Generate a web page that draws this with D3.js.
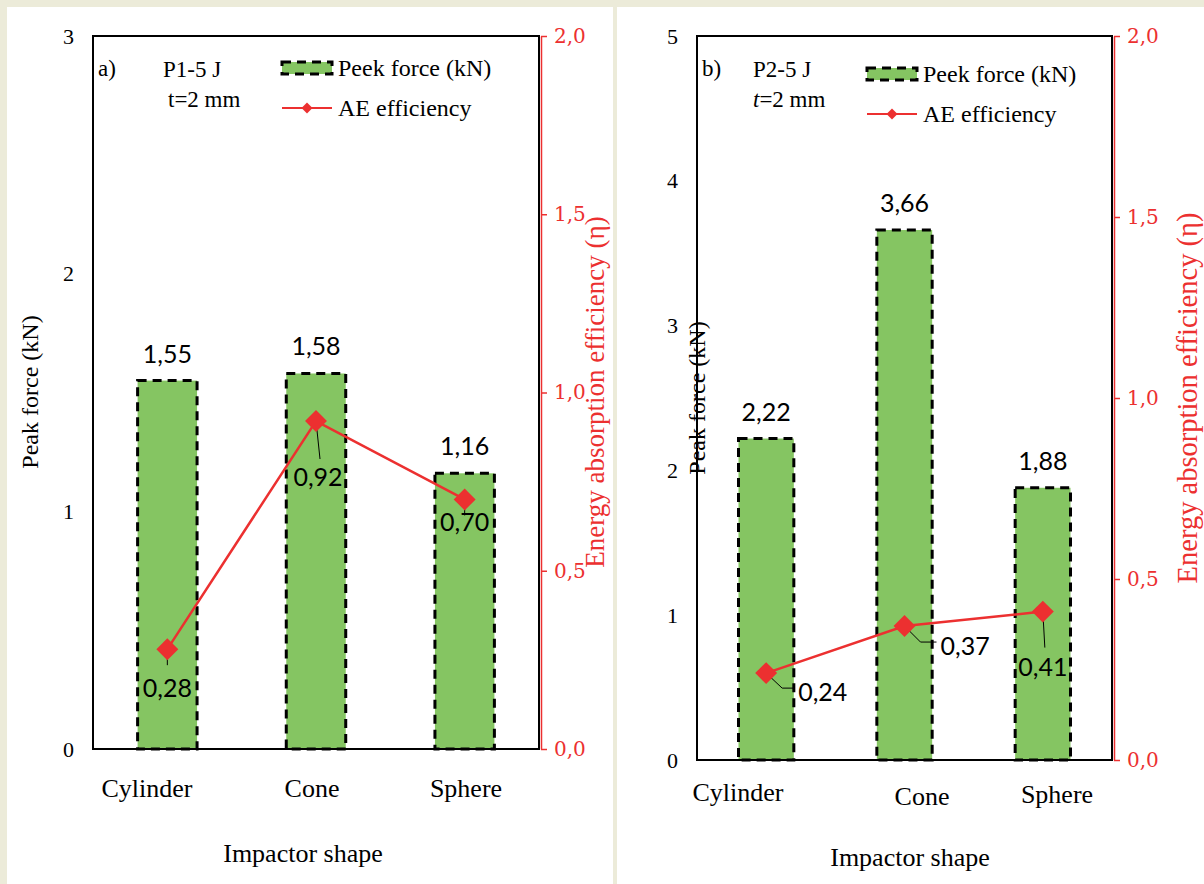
<!DOCTYPE html>
<html>
<head>
<meta charset="utf-8">
<script src="https://cdn.jsdelivr.net/npm/d3@7/dist/d3.min.js"></script>
<style>
  body { margin: 0; background: #ecebd9; }
  svg { display: block; }
</style>
</head>
<body>
<svg id="chart" width="1204" height="884"></svg>
<script>
// data
const categories = ['Cylinder', 'Cone', 'Sphere'];
const peakForceA = [1.55, 1.58, 1.16];
const efficiencyA = [0.28, 0.92, 0.70];
const peakForceB = [2.22, 3.66, 1.88];
const efficiencyB = [0.24, 0.37, 0.41];
const forceTicksA = [0, 1, 2, 3];
const forceTicksB = [0, 1, 2, 3, 4, 5];
const effTicks = [0, 0.5, 1.0, 1.5, 2.0];

const serif = '"Liberation Serif", "Times New Roman", serif';
const wideSerif = '"DejaVu Serif", serif';
const sans = 'Lato, "Open Sans", sans-serif';
const green = '#85c562';
const red = '#ec3030';

const comma = d3.formatLocale({decimal: ',', thousands: '.', grouping: [3], currency: ['', '']});
const fmt1 = comma.format('.1f');
const fmt2 = comma.format('.2f');

const svg = d3.select('#chart');

// white panels on the beige page
svg.append('rect').attr('x', 7).attr('y', 7).attr('width', 606).attr('height', 877).attr('fill', '#fff');
svg.append('rect').attr('x', 617).attr('y', 7).attr('width', 587).attr('height', 877).attr('fill', '#fff');

function drawPanel(cfg) {
  const g = svg.append('g');
  const {left, right, top, bottom} = cfg.box;

  const x = d3.scaleBand().domain(categories).range([left, right]).paddingInner(0.6).paddingOuter(0.3);
  const y = d3.scaleLinear().domain([0, d3.max(cfg.forceTicks)]).range([bottom, top]);
  const y2 = d3.scaleLinear().domain([0, 2]).range([bottom, top]);

  // bars
  g.append('g').selectAll('rect')
    .data(cfg.peak)
    .join('rect')
    .attr('x', (d, i) => x(categories[i]))
    .attr('width', x.bandwidth())
    .attr('y', d => y(d))
    .attr('height', d => bottom - y(d))
    .attr('fill', green)
    .attr('stroke', '#000')
    .attr('stroke-width', 3)
    .attr('stroke-dasharray', '9,6');

  // plot frame
  g.append('rect')
    .attr('x', left).attr('y', top)
    .attr('width', right - left).attr('height', bottom - top)
    .attr('fill', 'none').attr('stroke', '#000').attr('stroke-width', 2);

  // left axis
  const yAxis = g.append('g')
    .attr('transform', `translate(${left},0)`)
    .call(d3.axisLeft(y).tickValues(cfg.forceTicks).tickSize(0).tickPadding(19).tickFormat(d3.format('d')));
  yAxis.select('.domain').remove();
  yAxis.selectAll('text').attr('font-family', serif).attr('font-size', 22).attr('fill', '#000');

  // right axis
  const y2Axis = g.append('g')
    .attr('transform', `translate(${right + 2},0)`)
    .call(d3.axisRight(y2).tickValues(effTicks).tickSize(6).tickSizeOuter(0).tickPadding(7).tickFormat(fmt1));
  y2Axis.select('.domain').attr('stroke', red).attr('stroke-width', 1.5);
  y2Axis.selectAll('line').attr('stroke', red).attr('stroke-width', 1.5);
  y2Axis.selectAll('text').attr('font-family', wideSerif).attr('font-size', 20).attr('fill', red);

  // category labels
  categories.forEach((c, i) => {
    g.append('text')
      .attr('x', cfg.catX[i])
      .attr('y', bottom + cfg.catDy[i])
      .attr('text-anchor', 'middle')
      .attr('font-family', serif).attr('font-size', 26)
      .text(c);
  });

  g.append('text')
    .attr('x', cfg.xTitleX).attr('y', bottom + cfg.xTitleDy)
    .attr('text-anchor', 'middle')
    .attr('font-family', serif).attr('font-size', 26)
    .text('Impactor shape');

  g.append('text')
    .attr('transform', `translate(${cfg.yTitleX},${cfg.yTitleY}) rotate(-90)`)
    .attr('text-anchor', 'middle')
    .attr('font-family', serif).attr('font-size', 24)
    .text('Peak force (kN)');

  g.append('text')
    .attr('transform', `translate(${cfg.y2TitleX},${cfg.y2TitleY}) rotate(-90)`)
    .attr('text-anchor', 'middle')
    .attr('font-family', serif).attr('font-size', cfg.y2TitleSize)
    .attr('fill', red)
    .text('Energy absorption efficiency (η)');

  // bar value labels
  g.append('g').selectAll('text')
    .data(cfg.peak)
    .join('text')
    .attr('x', (d, i) => x(categories[i]) + x.bandwidth() / 2)
    .attr('y', d => y(d) - 18)
    .attr('text-anchor', 'middle')
    .attr('font-family', sans).attr('font-size', 25)
    .text(d => fmt2(d));

  // efficiency line
  const pts = cfg.eff.map((d, i) => [x(categories[i]) + x.bandwidth() / 2, y2(d)]);
  g.append('path')
    .attr('d', d3.line()(pts))
    .attr('fill', 'none').attr('stroke', red).attr('stroke-width', 2.5);

  // leader lines + labels
  pts.forEach((p, i) => {
    const o = cfg.effLabels[i];
    g.append('path')
      .attr('d', d3.line()([p].concat(o.leader.map(q => [p[0] + q[0], p[1] + q[1]]))))
      .attr('fill', 'none').attr('stroke', '#000').attr('stroke-width', 1);
  });

  g.append('g').selectAll('path')
    .data(pts)
    .join('path')
    .attr('transform', p => `translate(${p[0]},${p[1]}) rotate(45)`)
    .attr('d', d3.symbol(d3.symbolSquare, 240))
    .attr('fill', red);

  pts.forEach((p, i) => {
    const o = cfg.effLabels[i];
    g.append('text')
      .attr('x', p[0] + o.dx).attr('y', p[1] + o.dy)
      .attr('text-anchor', o.anchor)
      .attr('dominant-baseline', 'central')
      .attr('font-family', sans).attr('font-size', 25)
      .text(fmt2(cfg.eff[i]));
  });

  // in-plot notes
  g.append('text').attr('x', left + 5).attr('y', top + 40)
    .attr('font-family', serif).attr('font-size', 23).text(cfg.tag);
  g.append('text').attr('x', cfg.noteX).attr('y', top + 41)
    .attr('font-family', serif).attr('font-size', 23).text(cfg.specimen);
  const t = g.append('text').attr('x', cfg.noteX + cfg.tDx).attr('y', top + 71)
    .attr('font-family', serif).attr('font-size', 23);
  t.append('tspan').attr('font-style', cfg.italicT ? 'italic' : 'normal').text('t');
  t.append('tspan').text('=2 mm');

  // legend
  const lx = cfg.legendX, ly = top + cfg.legendDy;
  g.append('rect')
    .attr('x', lx).attr('y', ly - 6).attr('width', 50).attr('height', 12)
    .attr('fill', green).attr('stroke', '#000').attr('stroke-width', 3)
    .attr('stroke-dasharray', '9,6');
  g.append('text').attr('x', lx + 56).attr('y', ly).attr('dominant-baseline', 'central')
    .attr('font-family', serif).attr('font-size', 24).text('Peek force (kN)');
  g.append('line')
    .attr('x1', lx).attr('x2', lx + 50).attr('y1', ly + 40).attr('y2', ly + 40)
    .attr('stroke', red).attr('stroke-width', 2);
  g.append('path')
    .attr('transform', `translate(${lx + 25},${ly + 40}) rotate(45)`)
    .attr('d', d3.symbol(d3.symbolSquare, 60))
    .attr('fill', red);
  g.append('text').attr('x', lx + 56).attr('y', ly + 40).attr('dominant-baseline', 'central')
    .attr('font-family', serif).attr('font-size', 24).text('AE efficiency');
}

drawPanel({
  box: {left: 93, right: 539, top: 36, bottom: 749},
  forceTicks: forceTicksA,
  peak: peakForceA,
  eff: efficiencyA,
  catX: [147, 312, 466],
  catDy: [48, 48, 48],
  xTitleX: 303, xTitleDy: 113,
  yTitleX: 38, yTitleY: 392,
  y2TitleX: 604, y2TitleY: 392, y2TitleSize: 27,
  effLabels: [
    {dx: 0, dy: 38, anchor: 'middle', leader: [[0, 16]]},
    {dx: 2, dy: 55, anchor: 'middle', leader: [[4, 38]]},
    {dx: 0, dy: 22, anchor: 'middle', leader: [[0, 16]]}
  ],
  tag: 'a)', specimen: 'P1-5 J', noteX: 163, tDx: 5, italicT: false,
  legendX: 282, legendDy: 32
});

drawPanel({
  box: {left: 697, right: 1112, top: 36, bottom: 760},
  forceTicks: forceTicksB,
  peak: peakForceB,
  eff: efficiencyB,
  catX: [738, 922, 1057],
  catDy: [41, 45, 43],
  xTitleX: 910, xTitleDy: 106,
  yTitleX: 705, yTitleY: 398,
  y2TitleX: 1197, y2TitleY: 398, y2TitleSize: 28.5,
  effLabels: [
    {dx: 32, dy: 18, anchor: 'start', leader: [[16, 15], [28, 15]]},
    {dx: 36, dy: 19, anchor: 'start', leader: [[16, 16], [32, 16]]},
    {dx: 0, dy: 54, anchor: 'middle', leader: [[2, 36]]}
  ],
  tag: 'b)', specimen: 'P2-5 J', noteX: 753, tDx: 0, italicT: true,
  legendX: 867, legendDy: 38
});
</script>
</body>
</html>
